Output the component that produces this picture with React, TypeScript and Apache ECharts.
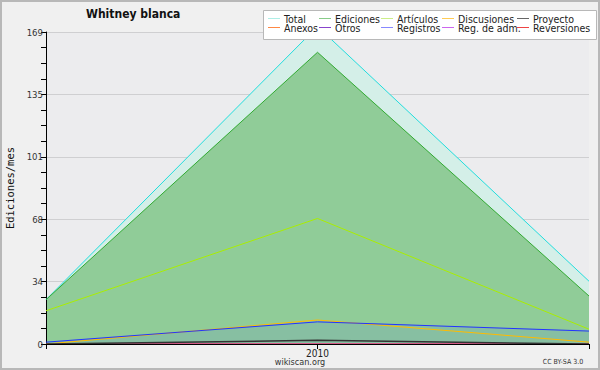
import React, { useEffect, useRef } from "react";
import * as echarts from "echarts";

const categories = ["2009", "2010", "2011"];
const xTickLabels = ["", "2010", ""];
const yTicks = [0, 34, 68, 101, 135, 169];

const total = [24, 172, 34];
const ediciones = [24, 158, 26];
const articulos = [18, 68, 8];
const discusiones = [0, 13, 1];
const proyecto = [0, 2, 0];
const anexos = [0, 0, 0];
const otros = [0, 0, 0];
const registros = [1, 12, 7];
const regAdm = [0, 0, 0];
const reversiones = [0, 0, 0];

const legendCols = [
  ["Total", "Anexos"],
  ["Ediciones", "Otros"],
  ["Artículos", "Registros"],
  ["Discusiones", "Reg. de adm."],
  ["Proyecto", "Reversiones"],
];
const legendX = [268, 319, 381, 442, 517];

const legendColors: Record<string, string> = {
  Total: "#aeeee6",
  Ediciones: "#88cc88",
  "Artículos": "#ccee88",
  Discusiones: "#ffcc55",
  Proyecto: "#666666",
  Anexos: "#ff8844",
  Otros: "#8844cc",
  Registros: "#8888ff",
  "Reg. de adm.": "#cc66ee",
  Reversiones: "#ee4444",
};

export default function App() {
  const ref = useRef<HTMLDivElement>(null);
  useEffect(() => {
    document.body.style.margin = "0";
    const chart = echarts.init(ref.current!, null, { renderer: "svg" });
    const font = "DejaVu Sans Condensed, DejaVu Sans";
    const line = (name: string, data: number[], color: string, extra: any = {}) => ({
      name,
      type: "line",
      data,
      symbol: "none",
      clip: false,
      lineStyle: { color, width: 1 },
      itemStyle: { color },
      ...extra,
    });
    chart.setOption({
      animation: false,
      backgroundColor: "#f0f0f0",
      title: {
        text: "Whitney blanca",
        left: 86,
        top: 8,
        padding: 0,
        textStyle: { fontFamily: font, fontSize: 12, fontWeight: "bold", color: "#111" },
      },
      graphic: [
        {
          type: "rect",
          shape: { x: 1, y: 1, width: 598, height: 368 },
          style: { fill: "none", stroke: "#b8b8b8", lineWidth: 2 },
          z: 100,
        },
        {
          type: "rect",
          shape: { x: 263.5, y: 10.5, width: 333, height: 29 },
          style: { fill: "#ffffff", stroke: "#b8b8b8", lineWidth: 1 },
          z: 50,
        },
        {
          type: "text",
          x: 300,
          y: 362,
          style: { text: "wikiscan.org", fontFamily: font, fontSize: 9, fill: "#333", align: "center", verticalAlign: "middle" },
        },
        {
          type: "text",
          x: 563,
          y: 362,
          style: { text: "CC BY-SA 3.0", fontFamily: font, fontSize: 7, fill: "#333", align: "center", verticalAlign: "middle" },
        },
      ],
      legend: legendCols.map((col, i) => ({
        orient: "vertical",
        left: legendX[i],
        top: 13,
        z: 60,
        icon: "rect",
        itemWidth: 12,
        itemHeight: 1,
        itemGap: -2,
        padding: 0,
        selectedMode: false,
        textStyle: { fontFamily: font, fontSize: 10.5, color: "#222", padding: [0, 0, 0, -1] },
        data: col.map((n) => ({ name: n, itemStyle: { color: legendColors[n] } })),
      })),
      grid: {
        left: 46,
        right: 11,
        top: 32,
        bottom: 26,
        show: true,
        backgroundColor: "#ececee",
        borderWidth: 0,
        containLabel: false,
        outerBoundsMode: "none",
      },
      xAxis: {
        type: "category",
        data: categories,
        boundaryGap: false,
        z: 10,
        axisLine: { lineStyle: { color: "#000", width: 1 } },
        axisTick: { show: true, interval: 0, length: 5, lineStyle: { color: "#000" } },
        axisLabel: {
          interval: 0,
          formatter: (_v: string, i: number) => xTickLabels[i],
          fontFamily: font,
          fontSize: 10,
          color: "#222",
          margin: 4,
        },
        splitLine: { show: false },
      },
      yAxis: {
        type: "value",
        min: 0,
        max: 169,
        interval: 169 / 5,
        z: 3,
        name: "Ediciones/mes",
        nameLocation: "middle",
        nameGap: 30,
        nameTextStyle: { fontFamily: "DejaVu Sans Mono", fontSize: 10.5, color: "#111" },
        axisLine: { show: true, lineStyle: { color: "#000", width: 1 } },
        axisTick: { show: true, length: 5, lineStyle: { color: "#000" } },
        minorTick: { show: true, splitNumber: 4, length: 5, lineStyle: { color: "#000" } },
        axisLabel: {
          formatter: (v: number) => String(yTicks.reduce((a, b) => (Math.abs(b - v) < Math.abs(a - v) ? b : a))),
          fontFamily: font,
          fontSize: 9.5,
          color: "#333",
          margin: 3,
        },
        splitLine: { show: true, lineStyle: { color: "rgba(0,0,0,0.12)", width: 1 } },
      },
      series: [
        line("Total", total, "#22dddd", { areaStyle: { color: "#d4efe8", opacity: 1 } }),
        line("Ediciones", ediciones, "#33aa33", { areaStyle: { color: "#90cc98", opacity: 1 } }),
        line("Anexos", anexos, "#ff8844"),
        line("Otros", otros, "#8844cc"),
        line("Reg. de adm.", regAdm, "#cc66ee"),
        line("Reversiones", reversiones, "#ee4444"),
        line("Artículos", articulos, "#aaee00"),
        line("Discusiones", discusiones, "#ffbb00"),
        line("Registros", registros, "#2233ff", { areaStyle: { color: "rgba(60,80,255,0.1)", opacity: 1 } }),
        line("Proyecto", proyecto, "#333333", { lineStyle: { color: "#333", width: 1.5 } }),
      ],
    });
    return () => chart.dispose();
  }, []);
  return <div ref={ref} style={{ width: 600, height: 370, position: "absolute", left: 0, top: 0 }} />;
}
